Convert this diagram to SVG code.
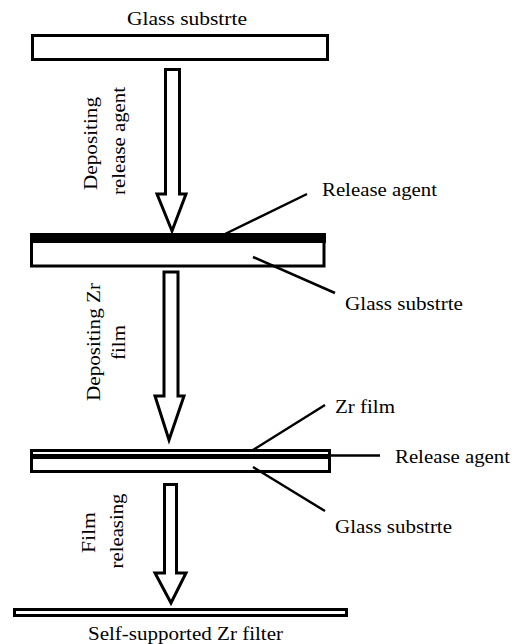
<svg xmlns="http://www.w3.org/2000/svg" width="530" height="644" viewBox="0 0 530 644" font-family="'Liberation Serif', 'DejaVu Serif', 'Times New Roman', serif">
<style>
  text { font-family: "Liberation Serif", "DejaVu Serif", "Times New Roman", serif; font-size: 18px; fill: #000; }
  .box { fill: #fff; stroke: #000; stroke-width: 3; }
  .band { fill: #000; stroke: none; }
  .arrow { fill: #fff; stroke: #000; stroke-width: 3; stroke-linejoin: miter; }
  .lead { stroke: #000; stroke-width: 2.5; fill: none; }
</style>
<rect x="0" y="0" width="530" height="644" fill="#fff"/>

<g id="step1">
  <text x="187" y="25" text-anchor="middle" textLength="120" lengthAdjust="spacingAndGlyphs">Glass substrte</text>
  <rect class="box" x="32.5" y="35.5" width="295" height="24"/>
</g>

<g id="step2">
  <rect class="box" x="31.5" y="235" width="292.5" height="31"/>
  <rect class="band" x="30" y="233" width="296" height="10"/>
  <text x="322" y="196" textLength="115" lengthAdjust="spacingAndGlyphs">Release agent</text>
  <text x="345" y="310" textLength="118" lengthAdjust="spacingAndGlyphs">Glass substrte</text>
</g>

<g id="step3">
  <rect class="box" x="31.5" y="450.5" width="298" height="21"/>
  <rect class="band" x="30" y="454" width="301" height="5"/>
  <text x="335" y="413" textLength="60" lengthAdjust="spacingAndGlyphs">Zr film</text>
  <text x="395" y="463" textLength="115" lengthAdjust="spacingAndGlyphs">Release agent</text>
  <text x="335" y="533" textLength="117" lengthAdjust="spacingAndGlyphs">Glass substrte</text>
</g>

<g id="step4">
  <rect class="box" x="14.5" y="609.5" width="332" height="6"/>
  <text x="185.5" y="640" text-anchor="middle" textLength="195" lengthAdjust="spacingAndGlyphs">Self-supported Zr filter</text>
</g>

<g id="connectors">
  <polygon class="arrow" points="165.5,69.5 179.5,69.5 179.5,194 186,194 172,231 157,194 165.5,194"/>
  <text transform="translate(97,143.5) rotate(-90)" text-anchor="middle" textLength="93" lengthAdjust="spacingAndGlyphs">Depositing</text>
  <text transform="translate(125,141) rotate(-90)" text-anchor="middle" textLength="108" lengthAdjust="spacingAndGlyphs">release agent</text>

  <polygon class="arrow" points="164,272 178,272 178,396 184,396 169,440 155,396 164,396"/>
  <text transform="translate(100,342) rotate(-90)" text-anchor="middle" textLength="118" lengthAdjust="spacingAndGlyphs">Depositing Zr</text>
  <text transform="translate(125,342.5) rotate(-90)" text-anchor="middle" textLength="35" lengthAdjust="spacingAndGlyphs">film</text>

  <polygon class="arrow" points="164.5,484.5 176.5,484.5 176.5,573 186,573 171,603 155,573 164.5,573"/>
  <text transform="translate(95,532.5) rotate(-90)" text-anchor="middle" textLength="41" lengthAdjust="spacingAndGlyphs">Film</text>
  <text transform="translate(123,531) rotate(-90)" text-anchor="middle" textLength="75" lengthAdjust="spacingAndGlyphs">releasing</text>

  <line class="lead" x1="307" y1="194" x2="225" y2="234"/>
  <line class="lead" x1="253" y1="257" x2="335" y2="293"/>
  <line class="lead" x1="325" y1="405" x2="253" y2="450"/>
  <line class="lead" x1="330" y1="455.5" x2="380" y2="455.5"/>
  <line class="lead" x1="253" y1="467" x2="325" y2="511"/>
</g>
</svg>
